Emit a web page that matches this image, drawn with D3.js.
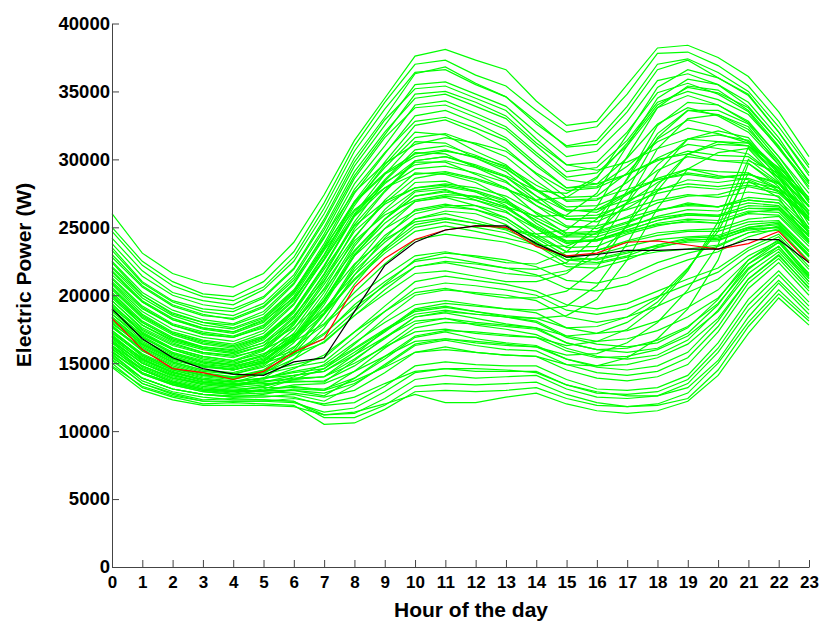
<!DOCTYPE html>
<html>
<head>
<meta charset="utf-8">
<script src="https://cdn.jsdelivr.net/npm/d3@7"></script>
<style>
  body { margin: 0; background: #fff; }
  .d3-container text { font-family: "Liberation Sans", Arial, sans-serif; font-weight: bold; }
</style>
</head>
<body>
<div class="d3-container"></div>
<script>
// hours on the x axis
const hours = d3.range(24);
const yTicks = [0, 5000, 10000, 15000, 20000, 25000, 30000, 35000, 40000];

// daily load profiles (W), one per day
const highDays = [
  [26000,23100,21600,20900,20600,21600,23900,27400,31400,34500,37600,38100,37300,36600,34300,32500,32800,35500,38200,38400,37500,36100,33500,30200],
  [25000,22500,21000,20100,19900,21000,23200,26800,31000,34200,37000,37300,36200,35400,33600,32000,32400,34800,37800,37900,36900,35400,32800,29600],
  [24200,21800,20200,19600,19300,20400,22500,26000,30100,33100,36300,36800,35600,34600,32800,30900,31100,33500,36600,37300,36000,34700,32000,29000],
  [23500,21000,19600,19000,18800,19800,21900,25400,29500,32500,35500,35700,34800,33900,32000,30200,30600,32800,35800,36300,35500,33900,31300,28400],
  [22800,20600,19200,18500,18300,19200,21300,24800,28800,31800,34800,35000,34200,33200,31200,29600,29800,32000,34900,35600,34800,33500,30800,28000],
  [22100,20000,18700,18000,17800,18600,20800,24200,28200,31000,34000,34300,33400,32400,30500,28700,29000,31000,33800,34700,34000,32700,30200,27500],
  [21500,19500,18200,17600,17300,18200,20200,23600,27500,30400,33200,33600,32700,31600,29700,27900,28200,30100,32600,33800,33200,32000,29600,27000],
  [21000,19000,17800,17100,16900,17700,19700,23000,26900,29800,32500,32900,32000,30800,28900,27200,27300,29000,31500,32900,32400,31300,29100,26600],
  [23800,21400,20000,19300,19000,19900,22000,25600,29800,32900,35200,35400,34500,33600,31500,29600,29200,29800,30800,31500,31300,31000,29400,27200],
  [22500,20200,18900,18200,17900,18800,20900,24500,28600,31600,33800,34000,33100,32200,30300,28500,28200,28900,29900,30600,30300,30200,28700,26600],
  [22000,19800,18500,17800,17500,18300,20300,23800,27800,30500,32800,33100,32300,31400,29500,27900,28000,29500,31300,32300,31900,31200,29200,27000],
  [21200,19100,17800,17200,16900,17600,19600,22900,26800,29400,31600,31900,31100,30200,28400,26900,27000,28300,30100,31100,30800,30400,28600,26500],
  [20500,18400,17200,16600,16300,17000,18900,22200,25900,28500,30700,31000,30300,29400,27700,26200,26300,27500,29200,30200,29900,29700,28200,26000],
  [19800,17800,16700,16100,15800,16500,18400,21500,25200,27700,29900,30200,29500,28700,27000,25600,25700,26800,28300,29300,29100,29000,27700,25600],
  [23300,20900,19500,18800,18500,19400,21500,25000,29100,32000,34500,34800,33900,33000,31000,29100,29400,31400,34200,35000,34400,33300,30900,28200],
  [24700,22200,20700,19900,19600,20600,22800,26400,30600,33700,36400,36600,35500,34600,32600,31000,31400,33900,37000,37400,36400,35000,32400,29400]
];

const midDays = [
  [20800,18600,17300,16700,16400,17200,19300,22700,26600,29600,32000,31800,30600,29600,27800,26300,26100,27400,28600,29300,28800,28500,27600,25800],
  [20200,18100,16900,16200,16000,16800,18800,22100,26000,28900,31300,31200,30100,29100,27300,25600,25400,26400,27700,28500,28300,28600,27900,26100],
  [19600,17600,16500,15800,15600,16300,18300,21600,25400,28400,30500,30400,29400,28400,26600,25100,24900,25800,26800,27300,27400,28000,27500,25500],
  [19100,17300,16100,15500,15200,16000,17900,21000,24900,27600,29800,29800,28900,27900,26000,24500,24600,25300,26200,26800,26500,27200,27000,24900],
  [18600,16900,15700,15100,14900,15600,17500,20500,24200,27000,29000,28900,28300,27100,25300,23900,24000,24800,25500,26000,25900,26600,26500,24400],
  [18100,16400,15300,14800,14600,15200,17000,19900,23600,26300,28300,28400,27600,26600,24900,23500,23600,24500,25100,25500,25300,26100,26300,24000],
  [17600,16000,15000,14400,14200,14800,16500,19300,22900,25600,27600,27800,27000,26200,24500,23200,23300,24000,24600,24800,24900,25600,25800,23600],
  [17200,15600,14600,14100,13900,14500,16100,18700,22200,24900,26900,27200,26600,25700,24200,22900,23000,23600,24100,24300,24400,25200,25400,23200],
  [16800,15200,14300,13800,13600,14200,15700,18200,21500,24200,26300,26700,26300,25500,24000,22600,22700,23200,23600,23900,24000,24900,25000,22900],
  [16300,14800,13900,13500,13300,13900,15300,17600,20800,23400,25600,26200,26000,25200,23700,22300,22300,22800,23200,23400,23700,24600,24800,22500],
  [21300,19200,17900,17300,17000,17800,19900,23300,26300,27900,28900,29100,28600,27900,26600,25600,25700,26300,27000,27400,27200,27600,27300,25000],
  [19900,18000,16800,16200,15900,16700,18700,21900,25100,26900,27900,28200,27900,27300,26100,25000,25100,25700,26300,26600,26500,27000,26800,24700],
  [18900,17100,16000,15400,15100,15900,17800,20800,24000,25900,27000,27400,27300,26800,25500,24400,24500,25100,25700,26000,25800,26400,26400,24300],
  [17900,16300,15200,14700,14500,15100,16900,19700,22900,24900,26200,26600,26600,26100,24900,23800,24100,24700,25200,25400,25300,26000,25900,23800],
  [22400,20000,18600,18000,17600,18400,20400,23500,26800,28900,30200,30600,30200,29500,28100,27000,27100,27800,28500,28900,28600,28900,28300,26200],
  [23000,20700,19300,18600,18200,19100,21100,24300,27600,29700,31100,31600,31200,30600,29000,27700,27900,28900,30000,30400,29900,29900,29000,27000],
  [18400,16600,15500,14900,14700,15400,17200,20200,23800,26100,27700,28000,27600,26900,25500,24300,24300,25000,25800,26300,26200,26800,26600,24400],
  [17700,16100,15100,14500,14300,14900,16700,19500,23000,25300,26900,27300,27000,26400,25000,23900,24000,24600,25300,25600,25500,26200,26100,23900],
  [20400,18300,17100,16400,16100,16900,18900,22100,25800,27900,29300,29500,29000,28300,26900,25800,25900,26700,27500,28000,27800,28100,27700,25500],
  [21700,19500,18200,17500,17200,18000,20100,23400,26900,29000,30400,30700,30100,29300,27800,26500,26600,27500,28500,29000,28700,28900,28200,26000],
  [19300,17400,16300,15700,15400,16100,18100,21300,24700,26700,27900,28100,27700,27000,25700,24600,24700,25400,26200,26700,26500,27000,26800,24600],
  [16900,15400,14500,14000,13800,14300,15900,18600,22000,24400,26000,26500,26300,25700,24300,23200,23300,23900,24400,24700,24700,25400,25500,23300],
  [18200,16400,15300,14800,14500,15100,16800,19600,23200,25600,27300,27600,27200,26500,25100,24000,24100,24800,25500,25900,25800,26400,26300,24100],
  [20900,18800,17500,16900,16600,17400,19400,22600,26200,28300,29600,29900,29400,28700,27300,26200,26300,27000,27800,28200,28000,28300,27900,25700],
  [17800,15900,14900,14300,14000,14400,14900,15400,17300,19200,21000,21400,21100,20800,20300,19300,19000,19400,20300,21200,22000,23500,24500,22100],
  [17000,15300,14300,13800,13600,13900,14300,14600,16400,18300,20000,20400,20200,20000,19600,18400,18000,18400,19200,20200,21200,22900,24000,21600],
  [18600,16700,15600,15000,14700,15200,15900,16800,18800,20800,22600,23100,22900,22600,22100,21100,20900,21400,22400,23100,23600,24600,25100,22800],
  [16500,14800,13900,13400,13200,13400,13700,13600,15200,16900,18400,18800,18600,18400,18100,17000,16600,16800,17400,18400,19800,22300,23600,21200],
  [19200,17200,16100,15500,15200,15700,16600,17900,20200,22300,24100,24500,24200,23900,23200,22100,22000,22600,23500,24000,24200,25000,25300,23000],
  [15900,14200,13400,12900,12700,12800,13000,12600,13900,15500,17000,17400,17300,17100,16900,15900,15400,15500,16000,17000,18800,21600,23200,20800],
  [20000,17800,16600,16000,15700,16300,17600,19600,22300,24100,25400,25700,25300,24800,23900,22800,22600,23100,23700,24100,24100,24800,25000,22900],
  [18300,16400,15400,14800,14500,15000,15700,16500,18500,20400,22100,22500,22300,22000,21500,20500,20300,20800,21800,22600,23200,24300,24900,22500],
  [17400,15600,14600,14100,13900,14200,14700,15100,16900,18800,20500,20900,20700,20400,20000,18900,18600,19000,19900,20800,21700,23300,24300,21900],
  [19600,17500,16400,15800,15500,16000,17100,18700,21200,23300,25000,25400,25000,24600,23700,22600,22400,22900,23700,24200,24300,25000,25200,22900],
  [16700,15000,14100,13600,13400,13600,13900,14000,15600,17400,19000,19400,19200,19000,18700,17600,17200,17400,18100,19100,20400,22600,23900,21400],
  [16200,14500,13600,13100,12900,13000,13300,13000,14400,16100,17600,18000,17900,17700,17500,16500,16000,16100,16700,17700,19400,22000,23400,21000],
  [15600,13900,13100,12700,12500,12500,12700,12200,13400,14900,16400,16800,16600,16400,16200,15300,14800,14900,15400,16400,18300,21200,22900,20600]
];

const eveningDays = [
  [19400,17200,16000,15300,15000,15600,17000,19000,21500,23500,25200,25600,25300,24900,24500,24800,26500,30200,33800,35400,35100,33600,31000,27800],
  [18400,16500,15400,14800,14500,15000,16200,17800,19800,21400,22900,23200,22800,22400,22300,23200,25100,28600,32500,34200,34000,32800,30200,27100],
  [17400,15700,14700,14100,13900,14300,15300,16600,18500,20100,21600,21800,21400,21000,21000,21600,23400,26900,30800,33000,33300,32400,29600,26500],
  [16600,15000,14100,13600,13400,13800,14600,15600,17300,18800,20200,20500,20100,19800,19800,20300,22000,25200,29000,31500,32100,31600,28900,25900],
  [20600,18500,17200,16500,16200,16900,18500,21100,24300,26800,28600,29000,28500,27800,27000,27200,28600,31800,35300,36600,36000,34800,32000,28800],
  [15800,14300,13500,13000,12800,13100,13800,14600,16000,17400,18600,18900,18600,18400,18300,18500,19700,22600,26400,29300,30500,30800,28400,25500],
  [18000,16200,15100,14500,14200,14700,15800,17200,19100,20700,22100,22400,22000,21600,21400,21800,22800,25100,28100,30400,31100,31000,29000,26200],
  [21800,19600,18300,17600,17300,18100,19800,22600,25900,28200,29900,30200,29600,28800,27700,27500,28700,31200,34000,35300,34900,33800,31300,28400],
  [19000,17000,15800,15200,14900,15500,16800,18900,21800,23900,25600,26000,25500,24900,24300,24300,25600,28500,31900,33600,33300,32200,29800,26900],
  [20100,18000,16800,16100,15800,16500,18000,20400,23300,25600,27300,27700,27200,26500,25800,25900,27500,31000,34500,35900,35500,34200,31600,28300],
  [17700,15900,14800,14200,14000,14500,15600,17100,19300,21000,22500,22800,22400,22000,21900,22400,24300,27700,31600,33600,33600,32600,29900,26800],
  [16000,14500,13600,13100,12900,13300,14000,14900,16500,18000,19300,19600,19300,19000,18900,19200,20700,23800,27700,30400,31300,31200,28600,25700],
  [18800,16900,15700,15100,14800,15300,16700,18600,21100,23100,24700,25100,24700,24200,23700,23600,24600,26800,29600,31500,31800,31400,29300,26500],
  [16200,14600,13700,13200,13000,13300,13800,14000,15000,16200,17300,17500,17200,17000,16900,16300,16600,17500,19200,21800,25400,30900,28800,25200],
  [15400,13900,13100,12700,12500,12700,13100,13000,13700,14700,15800,16000,15800,15600,15500,14900,14800,15400,16800,19000,22600,28400,27200,23900],
  [17000,15300,14400,13800,13600,13900,14400,14800,16100,17500,18800,19100,18800,18500,18300,17600,17700,18400,19800,22000,24700,29000,27900,24700],
  [16600,15000,14000,13500,13300,13600,14100,14400,15600,16900,18100,18300,18000,17800,17600,17000,17200,18000,19500,21900,25000,30000,28300,24900],
  [15800,14200,13400,12900,12700,13000,13400,13500,14400,15500,16600,16800,16500,16300,16200,15600,15700,16500,18000,20400,23700,29700,28000,24500]
];

const lowDays = [
  [14700,13000,12300,11900,11900,11900,11800,11200,11400,12000,12700,12100,12100,12500,12800,12000,11500,11300,11500,12200,14100,17200,19800,17800],
  [15000,13200,12500,12000,12100,12000,11900,10500,10600,11600,12900,13000,12900,13000,13200,12400,11900,11800,12000,12800,15000,18000,20400,18300],
  [15300,13500,12800,12300,12400,12300,12200,11200,11300,12400,13800,14100,13900,14000,14100,13100,12500,12400,12600,13500,15800,18900,21100,18900],
  [15700,13900,13100,12700,12600,12600,12500,11900,12100,13300,14800,15100,14900,14800,14800,13800,13100,13000,13200,14100,16500,19700,21800,19500],
  [16100,14300,13500,13000,12900,12900,12800,12500,13000,14300,15800,16200,15800,15600,15500,14500,13900,13700,14000,14900,17300,20500,22400,20000],
  [16500,14700,13800,13300,13100,13200,13200,13100,13900,15300,16900,17300,16800,16500,16300,15300,14700,14500,14800,15800,18100,21200,23000,20500],
  [16900,15100,14200,13600,13400,13500,13600,13700,14800,16300,17900,18300,17800,17500,17100,16100,15500,15300,15600,16700,18900,21900,23600,21000],
  [17300,15500,14500,13900,13700,13900,14100,14400,15800,17300,18900,19200,18800,18400,18000,16900,16400,16200,16500,17600,19700,22600,24100,21500],
  [14800,13300,12600,12200,12200,12200,12400,12000,12500,13500,14400,14600,14600,14500,14300,13400,12900,12600,12600,13200,15200,18400,20900,18600],
  [15500,13700,12900,12500,12300,12300,12200,11000,11000,11900,13300,13500,13400,13500,13600,12700,12100,11800,11900,12400,14500,17700,20100,18100],
  [15200,13500,12700,12200,12200,12200,12100,11400,11700,12900,14300,14600,14400,14400,14400,13400,12800,12700,12900,13800,16100,19300,21500,19200],
  [16300,14500,13600,13100,13000,13000,13000,12800,13500,14800,16300,16700,16300,16000,15900,14900,14300,14100,14400,15400,17700,20900,22700,20300],
  [17100,15300,14300,13700,13500,13700,13800,14000,15300,16800,18400,18700,18300,17900,17600,16500,16000,15800,16100,17200,19300,22300,23900,21300]
];

// the two highlighted curves
const redLine   = [18300,16000,14600,14300,13800,14400,15800,16800,20600,22700,24100,24800,25100,25000,23600,22900,23100,23900,24000,23700,23400,23800,24700,22400];
const blackLine = [19000,16800,15400,14600,14200,14100,15100,15400,18800,22200,23900,24800,25100,25100,23800,22800,23000,23300,23300,23400,23400,24100,24100,22400];

const width = 821;
const height = 623;
const margin = {top: 23.5, bottom: 56, left: 112, right: 12};

const svg = d3.select(".d3-container")
  .append("svg")
  .attr("width", width)
  .attr("height", height)
  .attr("viewBox", [0, 0, width, height]);

const x = d3.scaleLinear()
  .domain([0, 23])
  .range([margin.left, width - margin.right]);

const y = d3.scaleLinear()
  .domain([0, 40000])
  .range([height - margin.bottom, margin.top]);

const line = d3.line()
  .x((d, i) => x(hours[i]))
  .y(d => y(d));

const days = [...highDays, ...midDays, ...eveningDays, ...lowDays];

svg.append("g")
  .attr("fill", "none")
  .attr("stroke", "#00ff00")
  .attr("stroke-width", 1.2)
  .selectAll("path")
  .data(days)
  .join("path")
  .attr("d", line);

svg.append("path")
  .attr("fill", "none")
  .attr("stroke", "#ff0000")
  .attr("stroke-width", 1.2)
  .attr("d", line(redLine));

svg.append("path")
  .attr("fill", "none")
  .attr("stroke", "#000")
  .attr("stroke-width", 1.2)
  .attr("d", line(blackLine));

function yAxis(g) {
  g.attr("transform", `translate(${margin.left}, 0)`)
  g.call(d3.axisLeft(y).tickValues(yTicks).tickSizeInner(-7).tickSizeOuter(0).tickPadding(2).tickFormat(d3.format("d")))
  g.selectAll("text").attr("font-size", 18.5).attr("fill", "#000")
}

function xAxis(g) {
  g.attr("transform", `translate(0, ${height - margin.bottom})`)
  g.call(d3.axisBottom(x).tickValues(hours).tickSizeInner(-7).tickSizeOuter(0).tickPadding(9))
  g.selectAll("text").attr("font-size", 17).attr("fill", "#000")
}

svg.append("g").call(yAxis);
svg.append("g").call(xAxis);
svg.selectAll(".domain, .tick line").attr("stroke", "#444");

svg.append("text")
  .attr("transform", "translate(31, 275) rotate(-90)")
  .attr("text-anchor", "middle")
  .attr("font-size", 21)
  .text("Electric Power (W)");

svg.append("text")
  .attr("x", 471)
  .attr("y", 617)
  .attr("text-anchor", "middle")
  .attr("font-size", 21)
  .text("Hour of the day");
</script>
</body>
</html>
